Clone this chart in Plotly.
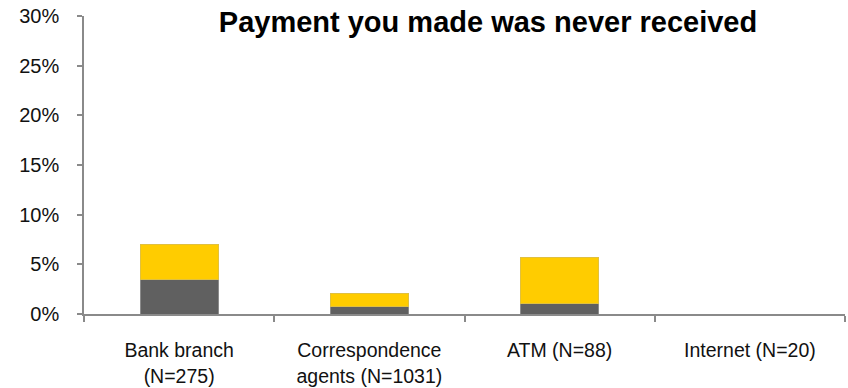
import plotly.graph_objects as go

# Survey results: share of users reporting a payment that never arrived
categories = ["Bank branch<br>(N=275)", "Correspondence<br>agents (N=1031)", "ATM (N=88)", "Internet (N=20)"]
dark_values = [3.5, 0.8, 1.05, 0.0]
yellow_values = [3.45, 1.28, 4.68, 0.0]
y_ticks = [0, 5, 10, 15, 20, 25, 30]
title_text = "Payment you made was never received"

FONT = "Liberation Sans, Arial, sans-serif"
AXIS_GRAY = "#8a8a8a"

fig = go.Figure()
fig.add_trace(go.Bar(
    x=categories, y=dark_values, width=0.41,
    marker=dict(color="#606060", line=dict(color="#8c8c8c", width=1)),
    showlegend=False,
))
fig.add_trace(go.Bar(
    x=categories, y=yellow_values, width=0.41,
    marker=dict(color="#FFCC00", line=dict(color="#e0c040", width=1)),
    showlegend=False,
))

fig.update_layout(
    barmode="stack",
    width=848, height=388,
    margin=dict(l=84, r=3, t=16, b=74),
    plot_bgcolor="white", paper_bgcolor="white",
    font=dict(family=FONT, color="#111111"),
    title=dict(
        text="<b>" + title_text + "</b>",
        x=488 / 848, xanchor="center", xref="container",
        y=1 - 22 / 388, yanchor="middle",
        font=dict(family=FONT, size=29, color="#000000"),
    ),
)

fig.update_yaxes(
    range=[0, 30], tickvals=y_ticks, ticktext=[f"{v}%" for v in y_ticks],
    showgrid=False, zeroline=False, automargin=False,
    showline=True, linecolor=AXIS_GRAY, linewidth=1.5,
    ticks="outside", ticklen=5, tickcolor=AXIS_GRAY, tickwidth=1.5,
    ticklabelstandoff=14,
    tickfont=dict(family=FONT, size=20, color="#111111"),
)
fig.update_xaxes(
    type="category", tickson="boundaries",
    showgrid=False, zeroline=False, automargin=False,
    showline=True, linecolor=AXIS_GRAY, linewidth=1.5,
    ticks="outside", ticklen=6, tickcolor=AXIS_GRAY, tickwidth=1.5,
    ticklabelstandoff=18,
    tickfont=dict(family=FONT, size=19.5, color="#111111"),
)

fig.write_html("out.html")
